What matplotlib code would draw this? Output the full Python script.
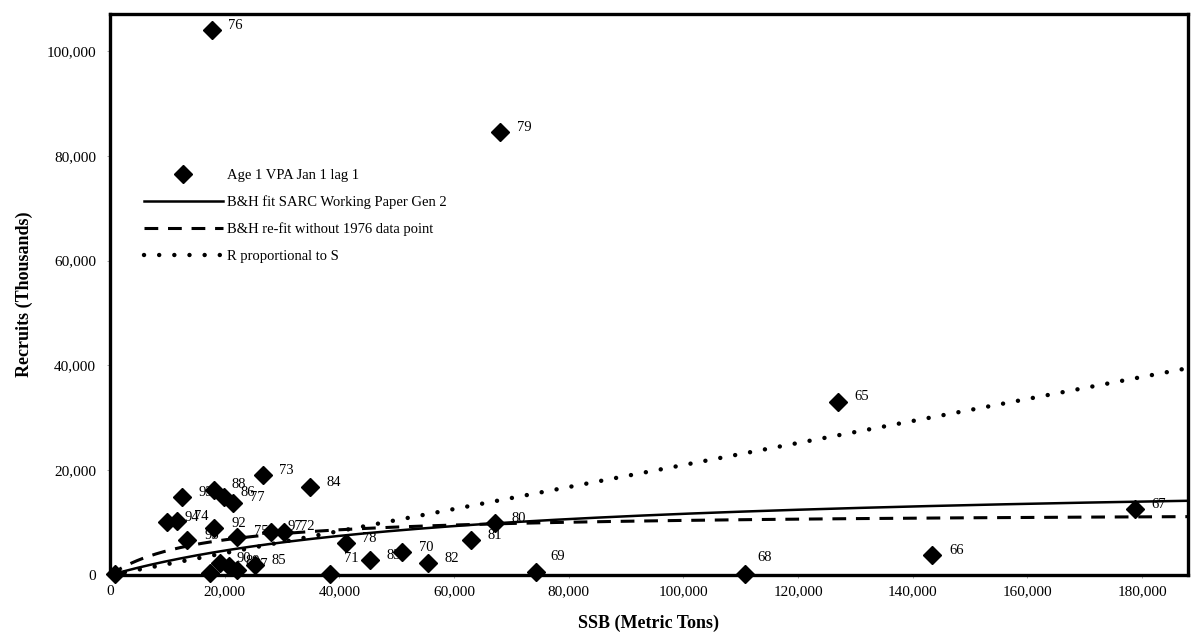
import matplotlib.pyplot as plt
import numpy as np

# Spawning stock biomass (metric tons) and recruits (thousands), by year class
years = ['65', '66', '67', '68', '69', '70', '71', '72', '73', '74', '75',
         '76', '77', '78', '79', '80', '81', '82', '83', '84', '85', '86',
         '87', '88', '89', '90', '91', '92', '93', '94', '95', '96', '97']
ssb = [126900, 143400, 178700, 110800, 74300, 51000, 38300, 30300, 26600,
       11700, 22200, 17700, 21500, 41100, 68000, 67100, 62900, 55400, 45300,
       34800, 25300, 19800, 22200, 18200, 20800, 19100, 17500, 18200, 12600,
       10000, 13500, 800, 28000]
recruits = [33100, 3800, 12600, 200, 600, 4400, 200, 8300, 19100, 10300, 7300,
            104000, 13800, 6100, 84500, 9900, 6700, 2300, 2900, 16800, 1900,
            14900, 1000, 16300, 1700, 2300, 400, 9000, 14900, 10100, 6700,
            300, 8300]

# curve parameters
bh_a, bh_b = 18700, 60000      # B&H fit SARC working paper
bh2_a, bh2_b = 12100, 16000    # B&H re-fit without 1976
prop_slope = 0.21              # R proportional to S

serif = 'Liberation Serif'
plt.rcParams['font.family'] = serif

fig = plt.figure(figsize=(11.92, 6.44), dpi=100)
ax = fig.add_axes([0.0923, 0.107, 0.9043, 0.871])

s = np.linspace(0, 188000, 400)
ax.plot(ssb, recruits, 'D', color='black', ms=9, clip_on=False, zorder=4,
        label='Age 1 VPA Jan 1 lag 1')
ax.plot(s, bh_a * s / (bh_b + s), color='black', lw=1.8,
        label='B&H fit SARC Working Paper Gen 2')
ax.plot(s, bh2_a * s / (bh2_b + s), color='black', lw=2.2,
        linestyle=(0, (4.5, 3.2)), label='B&H re-fit without 1976 data point')
ax.plot(s, prop_slope * s, color='black', lw=3.2,
        linestyle=(0, (0.01, 3.4)), dash_capstyle='round',
        label='R proportional to S')

# year labels, most placed up-right of the marker
offsets = {'68': (9, 12), '69': (10, 11), '71': (10, 11)}
for yr, x, y in zip(years, ssb, recruits):
    if yr == '96':
        continue
    dx, dy = offsets.get(yr, (12, 3.5))
    ax.annotate(yr, (x, y), xytext=(dx, dy), textcoords='offset points',
                ha='left', va='center', fontsize=10.5, annotation_clip=False)

ax.set_xlim(0, 188000)
ax.set_ylim(0, 107000)
ax.set_xticks(np.arange(0, 180001, 20000))
ax.set_yticks(np.arange(0, 100001, 20000))
ax.xaxis.set_major_formatter(plt.FuncFormatter(lambda v, p: f'{int(v):,}'))
ax.yaxis.set_major_formatter(plt.FuncFormatter(lambda v, p: f'{int(v):,}'))
ax.tick_params(length=2, width=0.6, color='#999999', labelsize=11)
ax.tick_params(axis='x', pad=5)
ax.tick_params(axis='y', pad=8)
for sp in ax.spines.values():
    sp.set_linewidth(2.4)

ax.set_xlabel('SSB (Metric Tons)', fontsize=13, fontweight='bold', labelpad=12)
ax.set_ylabel('Recruits (Thousands)', fontsize=13, fontweight='bold', labelpad=10)

ax.legend(loc='upper left', bbox_to_anchor=(0.026, 0.735), frameon=False,
          fontsize=10.5, handlelength=5.4, handletextpad=0.3, labelspacing=0.92,
          borderaxespad=0)

fig.savefig('out.png', dpi=100)
